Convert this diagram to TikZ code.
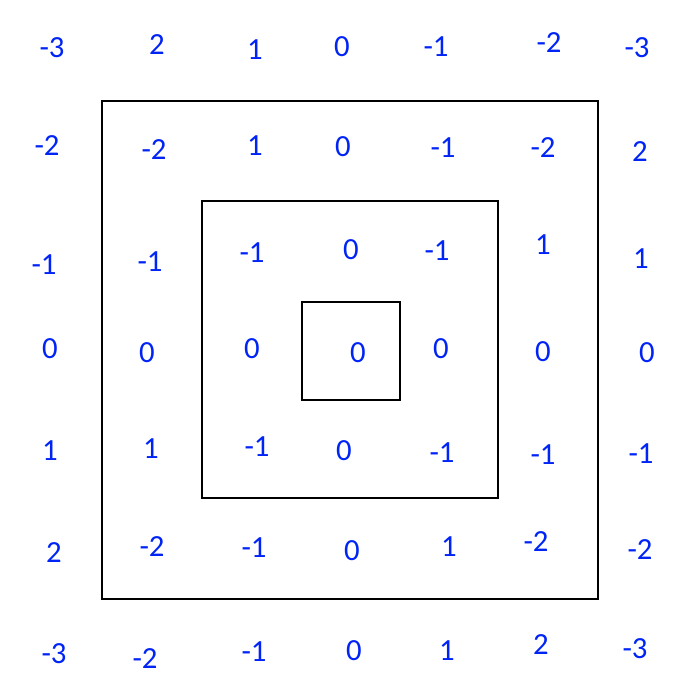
\documentclass[tikz,border=0pt]{standalone}
\usepackage{fontspec}
\setmainfont{Carlito}
\usetikzlibrary{positioning}
\definecolor{numblue}{RGB}{0,36,245}

\begin{document}
\begin{tikzpicture}[
    x=0.02cm, y=-0.02cm,
    num/.style={text=numblue, font=\fontsize{17.5}{20}\selectfont, inner sep=1pt},
    frame/.style={draw=black, line width=0.9pt},
  ]
    \useasboundingbox (0,0) rectangle (700,700);

    % nested frames
    \draw[frame] (102,101) rectangle (598,599);
    \draw[frame] (202,201) rectangle (498,498);
    \draw[frame] (302,302) rectangle (400,400);

    % numbers, row by row
    \foreach \x/\y/\t [count=\i] in {
        52/48/-3, 157/45/2, 255/50/1, 342/47/0, 436/47/-1, 549/43/-2, 637/48/-3,
        47/146/-2, 154/150/-2, 255/146/1, 343/147/0, 443/148/-1, 543/148/-2, 640/152/2,
        44/265/-1, 150/262/-1, 252/253/-1, 351/250/0, 437/251/-1, 543/245/1, 641/259/1,
        50/349/0, 147/353/0, 252/349/0, 358/353/0, 441/349/0, 543/352/0, 647/353/0,
        50/451/1, 151/449/1, 257/447/-1, 344/451/0, 442/453/-1, 543/455/-1, 641/454/-1,
        54/553/2, 152/547/-2, 254/548/-1, 352/551/0, 449/547/1, 536/542/-2, 640/550/-2,
        54/654/-3, 145/659/-2, 254/652/-1, 354/651/0, 447/651/1, 541/645/2, 635/649/-3}
      \node[num] (n\i) at (\x,\y) {\t};
\end{tikzpicture}
\end{document}
